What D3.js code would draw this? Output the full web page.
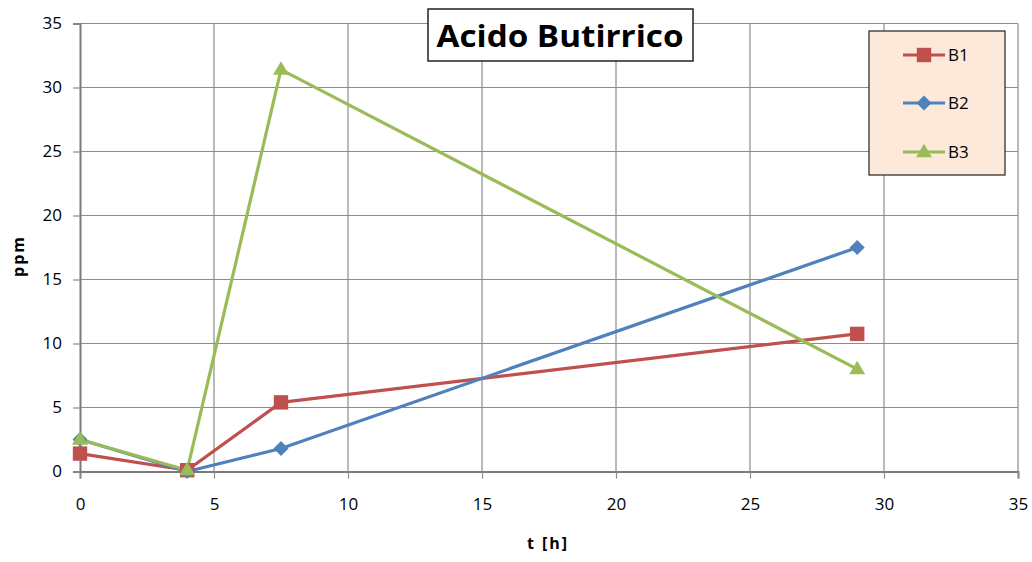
<!DOCTYPE html>
<html><head><meta charset="utf-8">
<script src="https://cdn.jsdelivr.net/npm/d3@7"></script>
<style>body{margin:0;background:#fff;}svg{display:block;}</style>
</head><body>
<svg id="c" width="1032" height="562"></svg>
<script>
const times = [0, 4, 7.5, 29];
const seriesNames = ["B1", "B2", "B3"];
const b1 = [1.4, 0.1, 5.4, 10.75];
const b2 = [2.5, 0, 1.8, 17.5];
const b3 = [2.5, 0.1, 31.4, 8.0];
const xTicks = [0, 5, 10, 15, 20, 25, 30, 35];
const yTicks = [0, 5, 10, 15, 20, 25, 30, 35];
const colors = ["#C0504D", "#4F81BD", "#9BBB59"];

// marker shapes (relative path generators)
function marker(k) {
  if (k === 0) { const s = 7.2; return `M${-s},${-s}H${s}V${s}H${-s}Z`; }
  if (k === 1) { const s = 7.5; return `M0,${-s}L${s},0L0,${s}L${-s},0Z`; }
  const w = 8, h = 13.5; return `M0,${-h * 0.62}L${w},${h * 0.38}L${-w},${h * 0.38}Z`;
}

const svg = d3.select("#c");
const font = "'Open Sans', 'Liberation Sans', sans-serif";
const x = d3.scaleLinear().domain([0, 35]).range([80, 1018]);
const y = d3.scaleLinear().domain([0, 35]).range([471.5, 23.5]);

// grid
svg.append("g").selectAll("line").data(xTicks.slice(1)).join("line")
  .attr("x1", d => x(d)).attr("x2", d => x(d)).attr("y1", y(35)).attr("y2", y(0))
  .attr("stroke", "#8c8c8c").attr("stroke-width", 1.2);
svg.append("g").selectAll("line").data(yTicks.slice(1)).join("line")
  .attr("x1", x(0)).attr("x2", x(35)).attr("y1", d => y(d)).attr("y2", d => y(d))
  .attr("stroke", "#8c8c8c").attr("stroke-width", 1.2);

// axes
const xAxis = svg.append("g").attr("transform", `translate(0,${y(0)})`)
  .call(d3.axisBottom(x).tickValues(xTicks).tickSize(7).tickPadding(19));
const yAxis = svg.append("g").attr("transform", `translate(${x(0)},0)`)
  .call(d3.axisLeft(y).tickValues(yTicks).tickSize(7).tickPadding(11));
[xAxis, yAxis].forEach(a => {
  a.select(".domain").attr("stroke", "#7a7a7a").attr("stroke-width", 2);
  a.selectAll(".tick line").attr("stroke", "#8c8c8c").attr("stroke-width", 1.2);
  a.selectAll(".tick text").attr("fill", "#000").style("font-family", font).style("font-size", "17px");
});

// series
const data = [b1, b2, b3];
const line = d3.line().x((d, i) => x(times[i])).y(d => y(d));
data.forEach((vals, k) => {
  svg.append("path").datum(vals).attr("d", line)
    .attr("fill", "none").attr("stroke", colors[k]).attr("stroke-width", 3.2)
    .attr("stroke-linejoin", "round");
});
data.forEach((vals, k) => {
  svg.append("g").selectAll("path").data(vals).join("path")
    .attr("d", marker(k))
    .attr("transform", (d, i) => `translate(${x(times[i])},${y(d)})`)
    .attr("fill", colors[k]);
});

// title
svg.append("rect").attr("x", 428).attr("y", 9).attr("width", 265).attr("height", 52)
  .attr("fill", "#fff").attr("stroke", "#222").attr("stroke-width", 1.5);
svg.append("text").attr("x", 560).attr("y", 47).attr("text-anchor", "middle")
  .style("font-family", font).style("font-weight", "bold").style("font-size", "30px")
  .attr("textLength", 247).attr("lengthAdjust", "spacingAndGlyphs")
  .text("Acido Butirrico");

// legend
svg.append("rect").attr("x", 869).attr("y", 31).attr("width", 136).attr("height", 144)
  .attr("fill", "#FDE9D9").attr("stroke", "#222").attr("stroke-width", 1.2);
const ly = [55, 103, 152];
seriesNames.forEach((n, k) => {
  svg.append("line").attr("x1", 903).attr("x2", 945).attr("y1", ly[k]).attr("y2", ly[k])
    .attr("stroke", colors[k]).attr("stroke-width", 3.2);
  svg.append("path").attr("d", marker(k))
    .attr("transform", `translate(924,${ly[k]})`).attr("fill", colors[k]);
  svg.append("text").attr("x", 948).attr("y", ly[k] + 6)
    .style("font-family", font).style("font-size", "17px").text(n);
});

// axis titles
svg.append("text").attr("transform", "translate(24,256) rotate(-90)").attr("text-anchor", "middle")
  .style("font-family", font).style("font-weight", "bold").style("font-size", "16px")
  .attr("letter-spacing", "2px").text("ppm");
svg.append("text").attr("x", 548).attr("y", 549).attr("text-anchor", "middle")
  .style("font-family", font).style("font-weight", "bold").style("font-size", "16px")
  .attr("letter-spacing", "2px").text("t [h]");
</script>
</body></html>
